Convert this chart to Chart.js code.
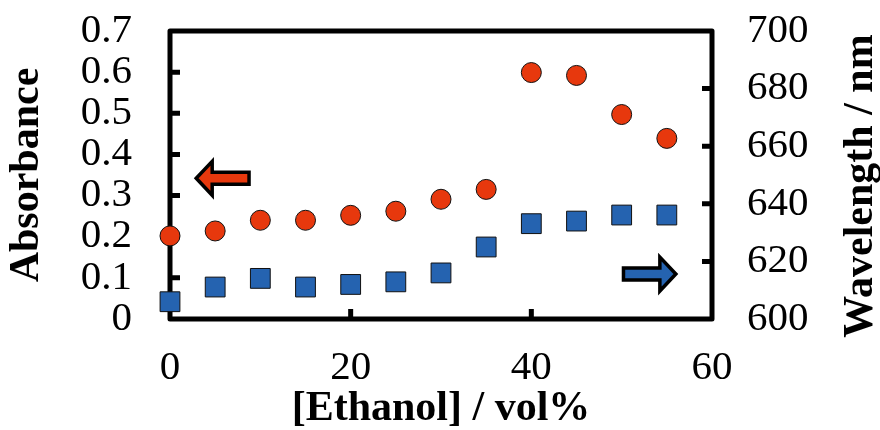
<!DOCTYPE html>
<html>
<head>
<meta charset="utf-8">
<script src="https://cdn.jsdelivr.net/npm/chart.js@4/dist/chart.umd.min.js"></script>
<style>
  html, body { margin: 0; padding: 0; background: #fff; }
  #wrap { width: 880px; height: 430px; position: relative; }
</style>
</head>
<body>
<div id="wrap"><canvas id="absChart"></canvas></div>
<script>
// Absorbance and peak wavelength vs ethanol content
const ethanol = [0, 5, 10, 15, 20, 25, 30, 35, 40, 45, 50, 55];
const absorbance = [0.202, 0.214, 0.240, 0.240, 0.252, 0.262, 0.291, 0.315, 0.599, 0.592, 0.497, 0.439];
const wavelength = [606.0, 611.1, 614.1, 611.1, 612.0, 612.9, 616.0, 625.0, 633.1, 634.0, 636.1, 636.1];

const xTicks = [0, 20, 40, 60];
const absTicks = [0, 0.1, 0.2, 0.3, 0.4, 0.5, 0.6, 0.7];
const wlTicks = [600, 620, 640, 660, 680, 700];

const RED = '#E7380D';
const BLUE = '#2563B0';
const SERIF = '"Liberation Serif", "Times New Roman", serif';

// arrows pointing at the axis each series belongs to (data units)
const arrows = [
  { axis: 'y', from: 8.75, to: 2.9, at: 0.342, color: RED },
  { axis: 'y1', from: 50.2, to: 56.0, at: 615.6, color: BLUE }
];

// thick box round the plot with short inward ticks
const framePlugin = {
  id: 'frame',
  beforeDatasetsDraw(chart) {
    const { ctx, chartArea: a, scales } = chart;
    const tick = 10;
    ctx.save();
    ctx.strokeStyle = '#000';
    ctx.lineWidth = 5;
    ctx.lineCap = 'butt';
    ctx.beginPath();
    absTicks.slice(1, -1).forEach(v => {
      const y = scales.y.getPixelForValue(v);
      ctx.moveTo(a.left, y); ctx.lineTo(a.left + tick, y);
    });
    wlTicks.slice(1, -1).forEach(v => {
      const y = scales.y1.getPixelForValue(v);
      ctx.moveTo(a.right, y); ctx.lineTo(a.right - tick, y);
    });
    xTicks.slice(1, -1).forEach(v => {
      const x = scales.x.getPixelForValue(v);
      ctx.moveTo(x, a.bottom); ctx.lineTo(x, a.bottom - tick);
    });
    ctx.stroke();
    ctx.lineJoin = 'round';
    ctx.beginPath();
    ctx.rect(a.left, a.top, a.right - a.left, a.bottom - a.top);
    ctx.stroke();
    ctx.restore();
  },
  afterDatasetsDraw(chart) {
    const { ctx, scales } = chart;
    ctx.save();
    arrows.forEach(ar => {
      const x0 = scales.x.getPixelForValue(ar.from);
      const x1 = scales.x.getPixelForValue(ar.to);
      const y = scales[ar.axis].getPixelForValue(ar.at);
      const dir = Math.sign(x1 - x0);
      const shaft = 6, head = 17, headLen = 16;
      const xb = x1 - dir * headLen;
      ctx.beginPath();
      ctx.moveTo(x0, y - shaft);
      ctx.lineTo(xb, y - shaft);
      ctx.lineTo(xb, y - head);
      ctx.lineTo(x1, y);
      ctx.lineTo(xb, y + head);
      ctx.lineTo(xb, y + shaft);
      ctx.lineTo(x0, y + shaft);
      ctx.closePath();
      ctx.fillStyle = ar.color;
      ctx.fill();
      ctx.lineWidth = 3.5;
      ctx.lineJoin = 'miter';
      ctx.strokeStyle = '#000';
      ctx.stroke();
    });

    // right axis title, read bottom to top like the left one
    const a = chart.chartArea;
    ctx.translate(861, (a.top + a.bottom) / 2 + 11);
    ctx.rotate(-Math.PI / 2);
    ctx.font = 'bold 42px ' + SERIF;
    ctx.fillStyle = '#000';
    ctx.textAlign = 'center';
    ctx.textBaseline = 'middle';
    ctx.fillText('Wavelength / nm', 0, 0);
    ctx.restore();
  }
};

const tickFont = { family: SERIF, size: 41 };
const titleFont = { family: SERIF, size: 42, weight: 'bold' };

// fixed axis boxes so the plot area lands at 170..712 x 31..319
const fixY = w => s => { s.width = w; s.paddingTop = 0; s.paddingBottom = 0; };

new Chart(document.getElementById('absChart'), {
  type: 'scatter',
  data: {
    datasets: [
      {
        label: 'Absorbance',
        data: ethanol.map((x, i) => ({ x, y: absorbance[i] })),
        yAxisID: 'y',
        pointStyle: 'circle',
        pointRadius: 10,
        pointBackgroundColor: RED,
        pointBorderColor: '#111',
        pointBorderWidth: 1,
        clip: false
      },
      {
        label: 'Wavelength',
        data: ethanol.map((x, i) => ({ x, y: wavelength[i] })),
        yAxisID: 'y1',
        pointStyle: 'rect',
        pointRadius: 14,
        pointBackgroundColor: BLUE,
        pointBorderColor: '#111',
        pointBorderWidth: 1,
        clip: false
      }
    ]
  },
  options: {
    responsive: true,
    maintainAspectRatio: false,
    animation: false,
    layout: { padding: { top: 31, left: 0, right: 0, bottom: 0 } },
    plugins: {
      legend: { display: false },
      tooltip: { enabled: false }
    },
    scales: {
      x: {
        type: 'linear',
        min: 0,
        max: 60,
        afterBuildTicks: s => { s.ticks = xTicks.map(value => ({ value })); },
        afterFit: s => { s.height = 111; s.paddingLeft = 0; s.paddingRight = 0; },
        grid: { display: false, drawTicks: false },
        border: { display: false },
        ticks: { font: tickFont, color: '#000', padding: 25, maxRotation: 0, autoSkip: false },
        title: { display: true, text: '[Ethanol] / vol%', font: titleFont, color: '#000', padding: { top: 0, bottom: -4 } }
      },
      y: {
        position: 'left',
        min: 0,
        max: 0.7,
        afterBuildTicks: s => { s.ticks = absTicks.map(value => ({ value })); },
        afterFit: fixY(170),
        grid: { display: false, drawTicks: false },
        border: { display: false },
        ticks: { font: tickFont, color: '#000', padding: 38, autoSkip: false, callback: v => String(+v.toFixed(1)) },
        title: { display: true, text: 'Absorbance', font: titleFont, color: '#000', padding: { top: 2, bottom: 0 } }
      },
      y1: {
        position: 'right',
        min: 600,
        max: 700,
        afterBuildTicks: s => { s.ticks = wlTicks.map(value => ({ value })); },
        afterFit: fixY(168),
        grid: { display: false, drawTicks: false },
        border: { display: false },
        ticks: { font: tickFont, color: '#000', padding: 35, autoSkip: false }
      }
    }
  },
  plugins: [framePlugin]
});
</script>
</body>
</html>
